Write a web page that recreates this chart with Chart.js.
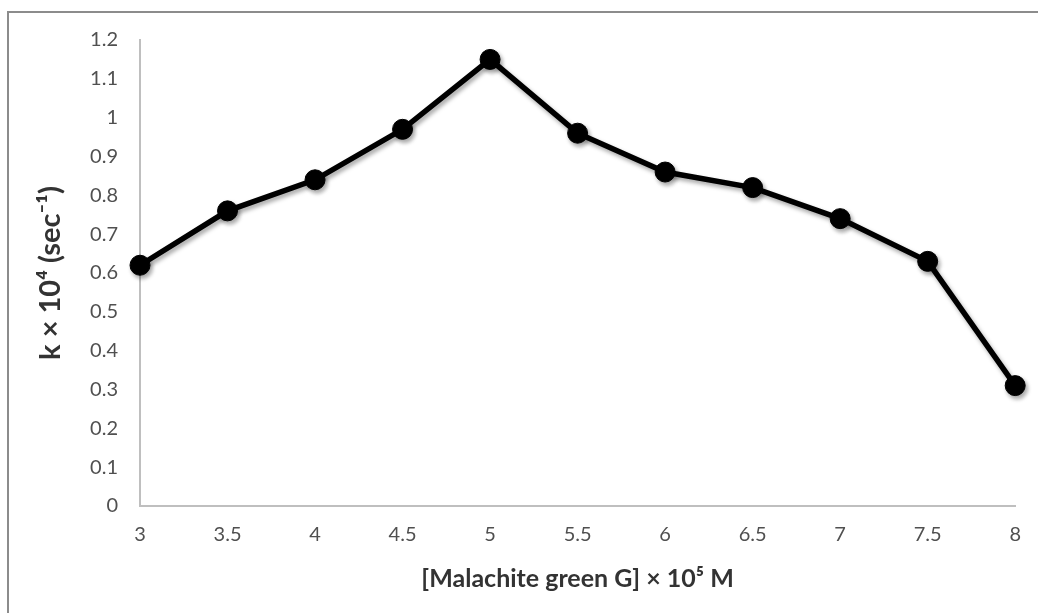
<!DOCTYPE html>
<html>
<head>
<meta charset="utf-8">
<script src="https://cdn.jsdelivr.net/npm/chart.js@4.4.1/dist/chart.umd.min.js"></script>
<style>
    html, body { margin: 0; padding: 0; background: #fff; }
    #wrap { position: relative; width: 1038px; height: 613px; overflow: hidden; }
    #frame {
        position: absolute; left: 7px; top: 11px; width: 1100px; height: 700px;
        border-left: 2px solid #8c8c8c; border-top: 2px solid #8c8c8c;
    }
    #chart { position: absolute; left: 0; top: 0; }
</style>
</head>
<body>
<div id="wrap">
    <div id="frame"></div>
    <canvas id="chart" width="1038" height="613"></canvas>
</div>
<script>
// concentration of malachite green (x 10^5 M) and rate constant k (x 10^4 s^-1)
const concentrations = [3, 3.5, 4, 4.5, 5, 5.5, 6, 6.5, 7, 7.5, 8];
const rateConstants = [0.62, 0.76, 0.84, 0.97, 1.15, 0.96, 0.86, 0.82, 0.74, 0.63, 0.31];

const xTitle = '[Malachite green G] × 10⁵ M';
const yTitle = 'k × 10⁴ (sec⁻¹)';

const FONT = 'Lato, "Open Sans", sans-serif';

// plain number labels: 3, 3.5, 1, 1.1 ...
const plainTick = (value) => String(Number(value.toFixed(2)));

// soft drop shadow under the line and markers
const shadowPlugin = {
    id: 'markerShadow',
    beforeDatasetsDraw(chart) {
        const ctx = chart.ctx;
        ctx.save();
        ctx.shadowColor = 'rgba(0,0,0,0.35)';
        ctx.shadowBlur = 4;
        ctx.shadowOffsetX = 2;
        ctx.shadowOffsetY = 3;
    },
    afterDatasetsDraw(chart) {
        chart.ctx.restore();
    }
};

const points = concentrations.map((c, i) => ({ x: c, y: rateConstants[i] }));

const ctx = document.getElementById('chart').getContext('2d');
new Chart(ctx, {
    type: 'line',
    data: {
        datasets: [{
            data: points,
            borderColor: '#000',
            borderWidth: 5.5,
            pointRadius: 10,
            pointBackgroundColor: '#000',
            pointBorderColor: '#000',
            pointBorderWidth: 1,
            tension: 0,
            clip: false
        }]
    },
    options: {
        responsive: false,
        animation: false,
        layout: { padding: { top: 40, right: 21, left: 0, bottom: 0 } },
        plugins: {
            legend: { display: false },
            tooltip: { enabled: false }
        },
        scales: {
            x: {
                type: 'linear',
                min: 3,
                max: 8,
                ticks: {
                    stepSize: 0.5,
                    padding: 17,
                    color: '#505050',
                    font: { family: FONT, size: 20 },
                    callback: plainTick
                },
                grid: { display: false, drawTicks: false },
                border: { display: true, color: '#bfbfbf', width: 2 },
                title: {
                    display: true,
                    text: xTitle,
                    color: '#333',
                    font: { family: FONT, size: 25, weight: 'bold' },
                    padding: { top: 4, bottom: 19 }
                },
                afterFit(scale) { scale.height = 107; }
            },
            y: {
                min: 0,
                max: 1.2,
                ticks: {
                    stepSize: 0.1,
                    padding: 22,
                    color: '#505050',
                    font: { family: FONT, size: 20 },
                    callback: plainTick
                },
                grid: { display: false, drawTicks: false },
                border: { display: true, color: '#bfbfbf', width: 2 },
                title: {
                    display: true,
                    text: yTitle,
                    color: '#333',
                    font: { family: FONT, size: 29, weight: 'bold' },
                    padding: { top: 33, bottom: 4 }
                },
                afterFit(scale) { scale.width = 140; }
            }
        }
    },
    plugins: [shadowPlugin]
});
</script>
</body>
</html>
